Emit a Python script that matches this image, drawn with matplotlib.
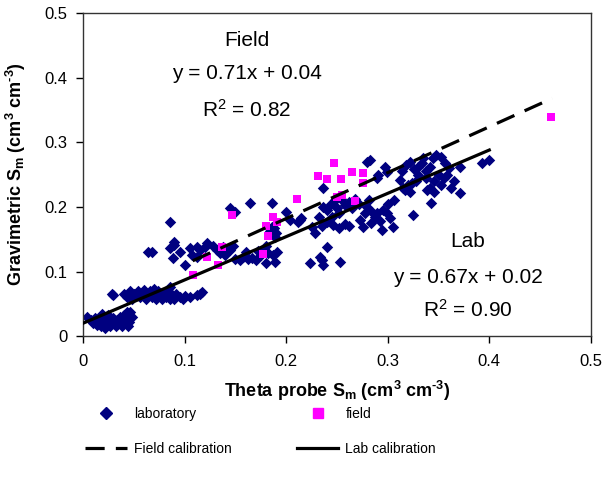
import numpy as np
import matplotlib
matplotlib.use("Agg")
import matplotlib.pyplot as plt
from matplotlib.lines import Line2D

plt.rcParams['font.family'] = ['Liberation Sans', 'DejaVu Sans']
plt.rcParams['mathtext.fontset'] = 'custom'
plt.rcParams['mathtext.rm'] = 'Liberation Sans:bold'
plt.rcParams['mathtext.it'] = 'Liberation Sans:bold'
plt.rcParams['mathtext.bf'] = 'Liberation Sans:bold'
plt.rcParams['mathtext.sf'] = 'Liberation Sans'

# laboratory points (theta probe Sm, gravimetric Sm)
lab_x = [0.004, 0.008, 0.010, 0.012, 0.014, 0.016, 0.018, 0.020, 0.021, 0.022, 0.024, 0.026, 0.027, 0.028,
         0.030, 0.030, 0.032, 0.033, 0.035, 0.036, 0.038, 0.039, 0.040, 0.042, 0.044, 0.045, 0.046, 0.043,
         0.048, 0.044, 0.015, 0.019, 0.025, 0.029, 0.030,
         0.040, 0.043, 0.046, 0.048, 0.050, 0.052, 0.054, 0.056, 0.058, 0.060, 0.062, 0.064, 0.066, 0.068,
         0.070, 0.072, 0.074, 0.076, 0.078, 0.080, 0.082, 0.084, 0.086, 0.088, 0.090, 0.092, 0.095, 0.098,
         0.105, 0.112, 0.115, 0.117, 0.100, 0.060, 0.070, 0.086,
         0.064, 0.068, 0.086, 0.086, 0.090, 0.090, 0.089, 0.095, 0.100, 0.105, 0.112, 0.107, 0.112, 0.115,
         0.120, 0.122, 0.132, 0.135, 0.138, 0.128,
         0.145, 0.150, 0.164, 0.186, 0.140, 0.145, 0.150, 0.155, 0.158, 0.162, 0.166, 0.170, 0.148, 0.160,
         0.175, 0.180, 0.172, 0.184, 0.188, 0.190, 0.186, 0.189, 0.177, 0.182, 0.187, 0.191, 0.180, 0.189,
         0.200, 0.204, 0.214, 0.212, 0.215, 0.225,
         0.236, 0.280, 0.283, 0.236, 0.240, 0.244, 0.248, 0.250, 0.254, 0.258, 0.262, 0.265, 0.268, 0.272,
         0.245, 0.252, 0.235, 0.240, 0.246, 0.252, 0.258, 0.262, 0.273, 0.276, 0.278, 0.280, 0.240, 0.233,
         0.235, 0.223, 0.236, 0.253, 0.228, 0.232,
         0.282, 0.285, 0.289, 0.287, 0.295, 0.299, 0.302, 0.305, 0.297, 0.299, 0.290, 0.289, 0.284, 0.292,
         0.300, 0.294, 0.306,
         0.312, 0.315, 0.317, 0.320, 0.324, 0.322, 0.339, 0.342, 0.346, 0.343, 0.325, 0.318, 0.322, 0.326,
         0.330, 0.334, 0.338, 0.342, 0.345, 0.348, 0.352, 0.356, 0.350, 0.355, 0.346, 0.338, 0.330, 0.328,
         0.360, 0.358, 0.314, 0.335, 0.352,
         0.371, 0.371, 0.393, 0.400, 0.365, 0.362]
lab_y = [0.030, 0.025, 0.020, 0.028, 0.018, 0.024, 0.015, 0.022, 0.030, 0.012, 0.018, 0.026, 0.015, 0.022,
         0.020, 0.028, 0.016, 0.025, 0.020, 0.030, 0.015, 0.024, 0.033, 0.020, 0.027, 0.022, 0.037, 0.037,
         0.030, 0.016, 0.022, 0.035, 0.032, 0.066, 0.063,
         0.065, 0.060, 0.070, 0.058, 0.066, 0.062, 0.070, 0.060, 0.067, 0.072, 0.058, 0.064, 0.070, 0.060,
         0.066, 0.058, 0.070, 0.063, 0.058, 0.066, 0.060, 0.070, 0.057, 0.064, 0.058, 0.066, 0.060, 0.057,
         0.060, 0.064, 0.065, 0.068, 0.062, 0.062, 0.073, 0.076,
         0.130, 0.130, 0.176, 0.136, 0.141, 0.145, 0.121, 0.130, 0.110, 0.136, 0.138, 0.125, 0.122, 0.133,
         0.138, 0.144, 0.133, 0.128, 0.138, 0.140,
         0.198, 0.192, 0.206, 0.206, 0.125, 0.133, 0.120, 0.118, 0.122, 0.119, 0.121, 0.118, 0.140, 0.130,
         0.125, 0.140, 0.132, 0.163, 0.167, 0.160, 0.169, 0.153, 0.133, 0.128, 0.125, 0.130, 0.113, 0.115,
         0.192, 0.180, 0.180, 0.177, 0.183, 0.169,
         0.229, 0.269, 0.272, 0.200, 0.195, 0.205, 0.210, 0.198, 0.212, 0.203, 0.208, 0.198, 0.212, 0.205,
         0.185, 0.190, 0.170, 0.176, 0.172, 0.168, 0.174, 0.170, 0.180, 0.169, 0.190, 0.200, 0.138, 0.122,
         0.118, 0.113, 0.110, 0.115, 0.160, 0.185,
         0.210, 0.192, 0.190, 0.184, 0.195, 0.190, 0.183, 0.169, 0.262, 0.254, 0.249, 0.245, 0.175, 0.178,
         0.205, 0.165, 0.210,
         0.241, 0.229, 0.226, 0.234, 0.237, 0.223, 0.226, 0.229, 0.223, 0.206, 0.187, 0.265, 0.270, 0.258,
         0.262, 0.268, 0.255, 0.262, 0.275, 0.280, 0.278, 0.268, 0.250, 0.245, 0.240, 0.245, 0.250, 0.240,
         0.260, 0.250, 0.255, 0.275, 0.234,
         0.221, 0.262, 0.268, 0.272, 0.240, 0.230]

# field points
field_x = [0.108, 0.122, 0.133, 0.137, 0.147, 0.177, 0.180, 0.182, 0.187, 0.191, 0.211, 0.231, 0.240,
           0.247, 0.250, 0.254, 0.255, 0.265, 0.268, 0.276, 0.276, 0.461]
field_y = [0.094, 0.122, 0.110, 0.138, 0.187, 0.127, 0.170, 0.155, 0.185, 0.176, 0.212, 0.248, 0.243,
           0.268, 0.215, 0.243, 0.218, 0.254, 0.209, 0.252, 0.237, 0.339]

# calibration lines: slope, intercept, x range
field_fit = (0.71, 0.04)
field_range = (0.108, 0.462)
lab_fit = (0.67, 0.02)
lab_range = (0.0, 0.40)

fig = plt.figure(figsize=(6.06, 4.83), dpi=100)
ax = fig.add_axes([0.137, 0.304, 0.838, 0.669])

ax.scatter(lab_x, lab_y, marker='D', s=34, color='#000080', linewidths=0, zorder=2)
ax.scatter(field_x, field_y, marker='s', s=36, color='#FF00FF', linewidths=0, zorder=3)

xf = np.array(field_range)
ax.plot(xf, field_fit[0] * xf + field_fit[1], color='black', lw=2.3, dashes=(6, 3.5), zorder=4)
xl = np.array(lab_range)
ax.plot(xl, lab_fit[0] * xl + lab_fit[1], color='black', lw=2.3, zorder=4)

ticks = [0, 0.1, 0.2, 0.3, 0.4, 0.5]
tick_labels = ['0', '0.1', '0.2', '0.3', '0.4', '0.5']
ax.set_xlim(0, 0.5)
ax.set_ylim(0, 0.5)
ax.set_xticks(ticks)
ax.set_xticklabels(tick_labels)
ax.set_yticks(ticks)
ax.set_yticklabels(tick_labels)
ax.tick_params(direction='out', length=5, width=1, labelsize=12)
ax.tick_params(axis='x', pad=8)
ax.tick_params(axis='y', pad=6)
for sp in ax.spines.values():
    sp.set_linewidth(1.0)
    sp.set_color('#333333')

ax.set_xlabel(r'Theta probe S$_m$ (cm$^3$ cm$^{\text{-}3}$)', fontsize=13, fontweight='bold', labelpad=7)
ax.set_ylabel(r'Gravimetric S$_m$ (cm$^3$ cm$^{\text{-}3}$)', fontsize=13, fontweight='bold', labelpad=12)

ax.text(0.161, 0.458, 'Field', fontsize=15, ha='center', va='center')
ax.text(0.161, 0.407, 'y = 0.71x + 0.04', fontsize=15, ha='center', va='center')
ax.text(0.161, 0.350, r'R$^{\mathsf{2}}$ = 0.82', fontsize=15, ha='center', va='center')
ax.text(0.379, 0.146, 'Lab', fontsize=15, ha='center', va='center')
ax.text(0.379, 0.091, 'y = 0.67x + 0.02', fontsize=15, ha='center', va='center')
ax.text(0.379, 0.040, r'R$^{\mathsf{2}}$ = 0.90', fontsize=15, ha='center', va='center')

handles = [
    Line2D([], [], ls='none', marker='D', ms=6, color='#000080'),
    Line2D([], [], color='black', lw=2.3, dashes=(6, 3.5)),
    Line2D([], [], ls='none', marker='s', ms=6.5, color='#FF00FF'),
    Line2D([], [], color='black', lw=2.3),
]
labels = ['laboratory', 'Field calibration', 'field', 'Lab calibration']
fig.legend(handles, labels, ncol=2, loc='center', bbox_to_anchor=(0.43, 0.107), frameon=False,
           fontsize=10, handlelength=3.0, columnspacing=4.7, labelspacing=1.5, handletextpad=0.5)

fig.savefig('out.png', dpi=100)
